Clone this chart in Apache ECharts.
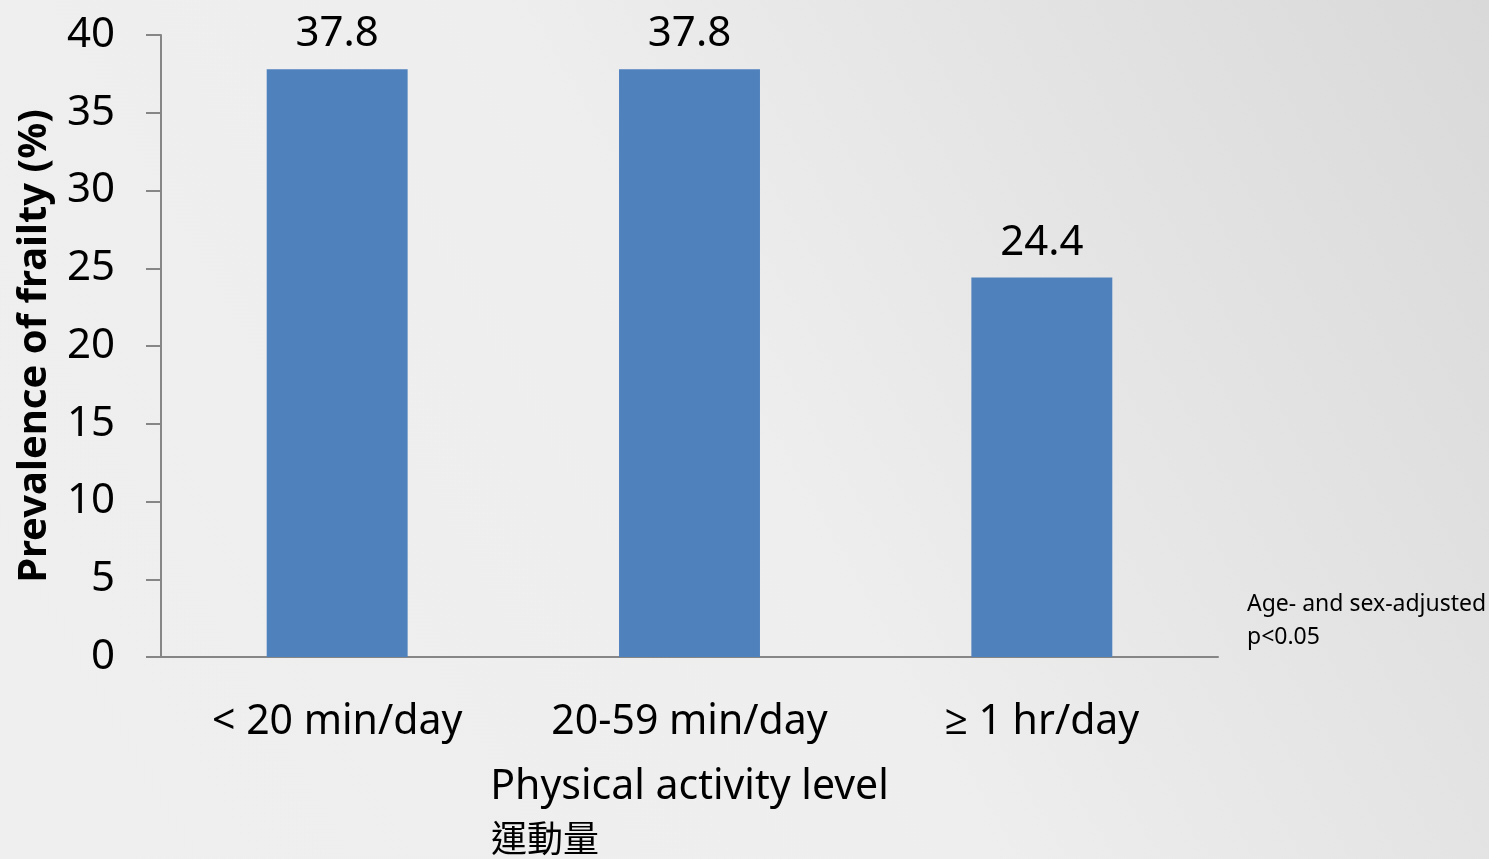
<!DOCTYPE html>
<html>
<head>
<meta charset="utf-8">
<title>Prevalence of frailty by physical activity level</title>
<script src="https://cdn.jsdelivr.net/npm/echarts@6/dist/echarts.min.js"></script>
<style>
  html, body { margin: 0; padding: 0; }
  #chart { width: 1489px; height: 859px; }
</style>
</head>
<body>
<div id="chart"></div>
<script>
// Activity groups and the share of frail participants in each (%)
const categories = ['< 20 min/day', '20-59 min/day', '\u2265 1 hr/day'];
const prevalence = [37.8, 37.8, 24.4];
const yTicks = [0, 5, 10, 15, 20, 25, 30, 35, 40];

const FONT = '"Noto Sans", "Open Sans", sans-serif';
const CJK = '"Noto Sans CJK TC", "Noto Sans CJK SC", sans-serif';

const chart = echarts.init(document.getElementById('chart'));
chart.setOption({
  backgroundColor: {
    type: 'linear', x: 0, y: 1, x2: 1, y2: 0,
    colorStops: [
      { offset: 0, color: '#efefef' },
      { offset: 0.5, color: '#eeeeee' },
      { offset: 1, color: '#d9d9d9' }
    ]
  },
  animation: false,
  grid: { left: 161, right: 271, top: 35, bottom: 202, containLabel: false, outerBoundsMode: 'none' },
  xAxis: {
    type: 'category',
    data: categories,
    axisLine: { show: true, lineStyle: { color: '#868686', width: 2 } },
    axisTick: { show: false },
    axisLabel: { color: '#000', fontFamily: FONT, fontSize: 41, margin: 45, interval: 0, hideOverlap: false },
    name: 'Physical activity level',
    nameLocation: 'middle',
    nameGap: 110,
    nameTextStyle: { color: '#000', fontFamily: FONT, fontSize: 41 }
  },
  yAxis: {
    type: 'value',
    min: yTicks[0],
    max: yTicks[yTicks.length - 1],
    interval: yTicks[1] - yTicks[0],
    splitLine: { show: false },
    axisLine: { show: true, lineStyle: { color: '#868686', width: 2 } },
    axisTick: { show: true, length: 15, lineStyle: { color: '#868686', width: 2 } },
    axisLabel: { color: '#000', fontFamily: FONT, fontSize: 42, margin: 46 },
    name: 'Prevalence of frailty (%)',
    nameLocation: 'middle',
    nameGap: 106,
    nameRotate: 90,
    nameTextStyle: { color: '#000', fontFamily: FONT, fontSize: 40, fontWeight: 'bold' }
  },
  series: [{
    type: 'bar',
    data: prevalence,
    barWidth: '40%',
    itemStyle: { color: '#4f81bd' },
    label: {
      show: true,
      position: 'top',
      distance: 14,
      color: '#000',
      fontFamily: FONT,
      fontSize: 42,
      formatter: p => p.value.toFixed(1)
    }
  }],
  graphic: [
    {
      type: 'text', left: 491, top: 820,
      style: { text: '運動量', font: '36px ' + CJK, fill: '#000' }
    },
    {
      type: 'text', left: 1247, top: 588,
      style: { text: 'Age- and sex-adjusted\np<0.05', font: '23px ' + FONT, fill: '#000', lineHeight: 33 }
    }
  ]
});
</script>
</body>
</html>
